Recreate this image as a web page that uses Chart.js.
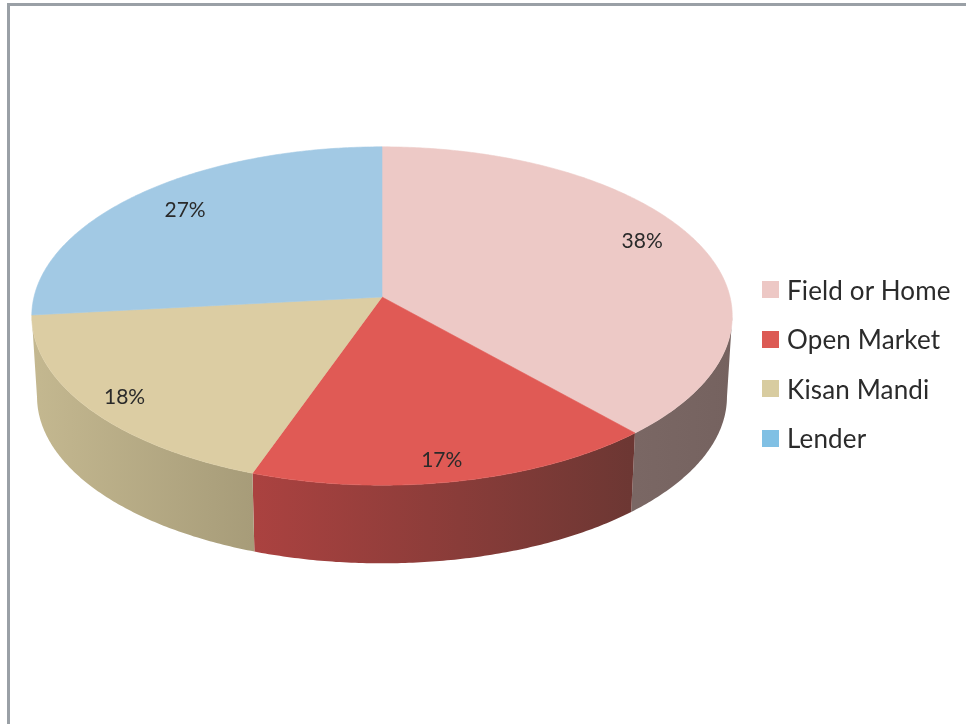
<!DOCTYPE html>
<html>
<head>
<meta charset="utf-8">
<title>Pie</title>
<script src="https://cdn.jsdelivr.net/npm/chart.js@4/dist/chart.umd.min.js"></script>
<style>
  html, body { margin: 0; padding: 0; background: #fff; }
  #wrap { position: relative; width: 966px; height: 724px; overflow: hidden; }
  #frame { position: absolute; left: 7px; top: 3px; right: -10px; bottom: -10px;
           border-left: 3px solid #9aa0a6; border-top: 3px solid #9aa0a6; }
  #pie { position: absolute; left: 0; top: 0; }
  #legend { position: absolute; left: 762px; top: 265px; font: 26px Lato, sans-serif; color: #2b2b2b; }
  #legend div { display: flex; align-items: center; height: 49.5px; letter-spacing: .15px; white-space: nowrap; }
  #legend i { display: block; width: 17px; height: 17px; margin-right: 8px; }
</style>
</head>
<body>
<div id="wrap">
  <div id="frame"></div>
  <canvas id="pie" width="966" height="724"></canvas>
  <div id="legend"></div>
</div>
<script>
const categories = ['Field or Home', 'Open Market', 'Kisan Mandi', 'Lender'];
const shares = [38.4, 17.0, 17.9, 26.7];
const topColors = ['#edc9c6', '#e05a55', '#dccda3', '#a2c9e4'];
const legendColors = ['#edc8c5', '#dc5a54', '#d8cca0', '#80c0e4'];
const wallLight = ['#7a6764', '#ab4240', '#c4b890', '#a2c9e4'];
const wallDark = ['#75625f', '#6c3733', '#a79c79', '#a2c9e4'];

// the tilted pie: circle points get a perspective projection, so the near side looks bigger
const APEX_Y = 297;
const TILT = 0.48;
const PERSPECTIVE = -0.1124;
const DEPTH = 81;
const BOTTOM_SCALE = 0.985;
const LABEL_RADIUS = 0.82;
// hand nudges for the percent labels, [dx, dy]
const LABEL_NUDGE = [[2, -8], [-1, 15], [-20, 10], [3, -1]];

function project(arc, angle, scale) {
    const u = Math.cos(angle) * scale;
    const v = Math.sin(angle) * scale;
    const d = 1 + PERSPECTIVE * v;
    return {
        x: arc.x + arc.outerRadius * u / d,
        y: APEX_Y + arc.outerRadius * TILT * v / d
    };
}

function rimAngles(arc) {
    const list = [];
    const steps = Math.ceil((arc.endAngle - arc.startAngle) / 0.01);
    for (let i = 0; i <= steps; i++) {
        list.push(arc.startAngle + (arc.endAngle - arc.startAngle) * i / steps);
    }
    return list;
}

function drawWall(ctx, arc, index) {
    // only the part of the rim facing the viewer
    const front = rimAngles(arc).filter(a => Math.sin(a) > 0.11);
    if (front.length < 2) return;
    const top = front.map(a => project(arc, a, 1));
    const bottom = top.map(p => ({
        x: arc.x + (p.x - arc.x) * BOTTOM_SCALE,
        y: APEX_Y + DEPTH + (p.y - APEX_Y) * BOTTOM_SCALE
    }));
    const xs = top.map(p => p.x);
    const grad = ctx.createLinearGradient(Math.min(...xs), 0, Math.max(...xs), 0);
    grad.addColorStop(0, wallLight[index]);
    grad.addColorStop(1, wallDark[index]);
    ctx.beginPath();
    top.forEach((p, i) => i ? ctx.lineTo(p.x, p.y) : ctx.moveTo(p.x, p.y));
    bottom.reverse().forEach(p => ctx.lineTo(p.x, p.y));
    ctx.closePath();
    ctx.fillStyle = grad;
    ctx.fill();
}

function drawTop(ctx, arc, index) {
    ctx.beginPath();
    ctx.moveTo(arc.x, APEX_Y);
    rimAngles(arc).forEach(a => {
        const p = project(arc, a, 1);
        ctx.lineTo(p.x, p.y);
    });
    ctx.closePath();
    ctx.fillStyle = topColors[index];
    ctx.strokeStyle = topColors[index];
    ctx.lineWidth = 0.6;
    ctx.fill();
    ctx.stroke();
}

const tiltedPie = {
    id: 'tiltedPie',
    beforeDatasetsDraw(chart) {
        const ctx = chart.ctx;
        const arcs = chart.getDatasetMeta(0).data;
        ctx.save();
        arcs.forEach((arc, i) => drawWall(ctx, arc, i));
        arcs.forEach((arc, i) => drawTop(ctx, arc, i));
        ctx.font = '21px Lato, sans-serif';
        ctx.fillStyle = '#2a2a2a';
        ctx.textAlign = 'center';
        ctx.textBaseline = 'middle';
        arcs.forEach((arc, i) => {
            const p = project(arc, (arc.startAngle + arc.endAngle) / 2, LABEL_RADIUS);
            ctx.fillText(Math.round(shares[i]) + '%', p.x + LABEL_NUDGE[i][0], p.y + LABEL_NUDGE[i][1]);
        });
        ctx.restore();
        return false;
    }
};

new Chart(document.getElementById('pie'), {
    type: 'pie',
    data: {
        labels: categories,
        datasets: [{ data: shares, backgroundColor: topColors, borderWidth: 0 }]
    },
    options: {
        responsive: false,
        animation: false,
        layout: { padding: { left: 34, right: 236, top: 14, bottom: 14 } },
        plugins: { legend: { display: false }, tooltip: { enabled: false } }
    },
    plugins: [tiltedPie]
});

// legend is plain html so the swatch/text gap can follow the picture
const legendBox = document.getElementById('legend');
categories.forEach((name, i) => {
    const row = document.createElement('div');
    const swatch = document.createElement('i');
    swatch.style.background = legendColors[i];
    row.appendChild(swatch);
    row.appendChild(document.createTextNode(name));
    legendBox.appendChild(row);
});
</script>
</body>
</html>
